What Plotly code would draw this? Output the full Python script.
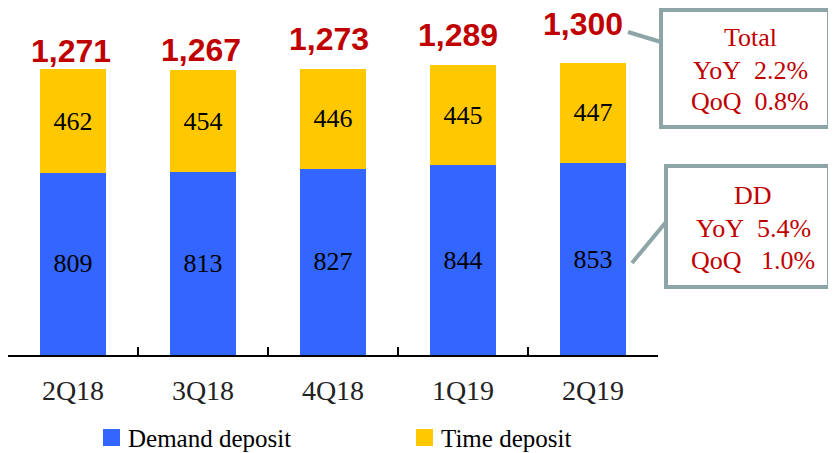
import plotly.graph_objects as go

categories = ["2Q18", "3Q18", "4Q18", "1Q19", "2Q19"]
demand = [809, 813, 827, 844, 853]
time_dep = [462, 454, 446, 445, 447]
totals = [1271, 1267, 1273, 1289, 1300]
series_names = ["Demand deposit", "Time deposit"]
series_colors = ["#3366FF", "#FFC800"]
total_box = ["Total", "YoY  2.2%", "QoQ  0.8%"]
dd_box = ["DD", "YoY  5.4%", "QoQ   1.0%"]

# hand-placed offsets of the total labels (pixels), as in the source slide
total_dx = [-2, -2, -4, -5, -10]
total_dy = [18, 20, 30, 30, 39]

# page body has an 8px margin, so the figure is 8px smaller and coordinates
# below are given in screen pixels and converted
OFF = 8
W, H = 836 - OFF, 453 - OFF
L, T = 0, 0
AX_RIGHT_SCREEN = 658
BASE_SCREEN = 355
PW = AX_RIGHT_SCREEN - OFF - L
R = W - L - PW
PH = BASE_SCREEN - OFF - T
B = H - T - PH

def px(sx):
    return (sx - OFF - L) / PW

def py(sy):
    return (BASE_SCREEN - sy) / PH

SERIF = "Liberation Serif"
RED = "#C00000"
GREY = "#8DA5A7"

fig = go.Figure()
for name, vals, col in zip(series_names, [demand, time_dep], series_colors):
    fig.add_trace(go.Bar(
        x=categories, y=vals, name=name,
        marker=dict(color=col, line=dict(width=0)),
        text=[str(v) for v in vals], textposition="inside", insidetextanchor="middle",
        textfont=dict(family=SERIF, size=26, color="black"),
    ))

for c, t, dx, dy in zip(categories, totals, total_dx, total_dy):
    fig.add_annotation(x=c, y=t, text=f"<b>{t:,}</b>", showarrow=False,
                       yanchor="middle", xanchor="center", yshift=dy, xshift=dx,
                       borderpad=0,
                       font=dict(family="Liberation Sans", size=32, color=RED))

# manual legend
leg_sq = [103, 416]
for name, col, sx in zip(series_names, series_colors, leg_sq):
    fig.add_shape(type="rect", xref="paper", yref="paper",
                  x0=px(sx), x1=px(sx + 17), y0=py(446), y1=py(429),
                  line=dict(width=0), fillcolor=col)
    fig.add_annotation(xref="paper", yref="paper", x=px(sx + 23), y=py(438),
                       text=name, showarrow=False, xanchor="left", yanchor="middle",
                       font=dict(family=SERIF, size=25, color="black"))

# callout boxes
fig.add_shape(type="rect", xref="paper", yref="paper",
              x0=px(661), x1=px(829), y0=py(127), y1=py(10),
              line=dict(color=GREY, width=4), fillcolor="white")
fig.add_shape(type="line", xref="paper", yref="paper",
              x0=px(628), y0=py(32), x1=px(661), y1=py(42),
              line=dict(color=GREY, width=4))
fig.add_shape(type="rect", xref="paper", yref="paper",
              x0=px(666), x1=px(829), y0=py(287), y1=py(166),
              line=dict(color=GREY, width=4), fillcolor="white")
fig.add_shape(type="line", xref="paper", yref="paper",
              x0=px(632), y0=py(263), x1=px(666), y1=py(222),
              line=dict(color=GREY, width=4))

for i, line in enumerate(total_box):
    fig.add_annotation(xref="paper", yref="paper", x=px(750), y=py(38 + 32 * i),
                       text=line.replace(" ", "\u00a0"), showarrow=False, xanchor="center", yanchor="middle",
                       font=dict(family=SERIF, size=26, color=RED))
for i, line in enumerate(dd_box):
    fig.add_annotation(xref="paper", yref="paper", x=px(753), y=py(196 + 32 * i),
                       text=line.replace(" ", "\u00a0"), showarrow=False, xanchor="center", yanchor="middle",
                       font=dict(family=SERIF, size=26, color=RED))

fig.update_layout(
    width=W, height=H,
    margin=dict(l=L, r=R, t=T, b=B, autoexpand=False),
    barmode="stack", bargap=0.49,
    plot_bgcolor="white", paper_bgcolor="white",
    showlegend=False,
    xaxis=dict(type="category", tickson="boundaries", ticks="inside", ticklen=8,
               tickcolor="black", tickwidth=1.5, automargin=False,
               showline=True, linecolor="black", linewidth=1.5, showgrid=False,
               tickfont=dict(family=SERIF, size=28, color="#222"),
               range=[-0.5, 4.5], ticklabelstandoff=10),
    yaxis=dict(range=[0, PH / 0.225], visible=False, showgrid=False, automargin=False),
)

fig.write_html("out.html")
